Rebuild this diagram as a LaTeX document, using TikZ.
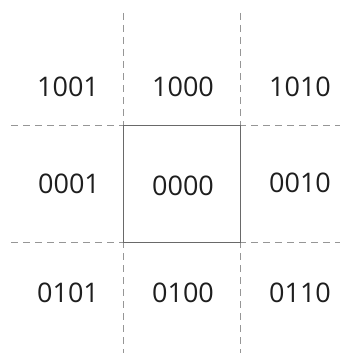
\documentclass[tikz,border=0pt]{standalone}
\usepackage{fontspec}
\setmainfont{Open Sans}
\definecolor{gridgray}{RGB}{150,150,150}
\definecolor{boxgray}{RGB}{105,105,105}
\definecolor{codetext}{RGB}{30,30,30}
\tikzset{
  region/.style={font=\fontsize{27}{30}\selectfont, text=codetext, inner sep=0pt},
  gridline/.style={gridgray, line width=0.9pt, dash pattern=on 7pt off 5pt},
}
\begin{document}
\begin{tikzpicture}[x=1pt,y=-1pt]
        \useasboundingbox (0,0) rectangle (343,353);
        % dashed extensions of the window edges
        \draw[gridline] (123.5,13) -- (123.5,353);
        \draw[gridline] (240,13) -- (240,353);
        \draw[gridline] (11,125) -- (340,125);
        \draw[gridline] (11,242) -- (340,242);
        % clipping window
        \draw[boxgray, line width=0.9pt] (123.5,125) -- (240,125) -- (240,242) -- (123.5,242) -- cycle;
        % region codes
        \node[region] (c1001) at (68,87) {1001};
        \node[region] (c1000) at (183,87) {1000};
        \node[region] (c1010) at (300,87) {1010};
        \node[region] (c0001) at (69,184) {0001};
        \node[region] (c0000) at (183,186) {0000};
        \node[region] (c0010) at (300,183) {0010};
        \node[region] (c0101) at (68,293) {0101};
        \node[region] (c0100) at (183,293) {0100};
        \node[region] (c0110) at (300,293) {0110};
    \end{tikzpicture}
\end{document}
